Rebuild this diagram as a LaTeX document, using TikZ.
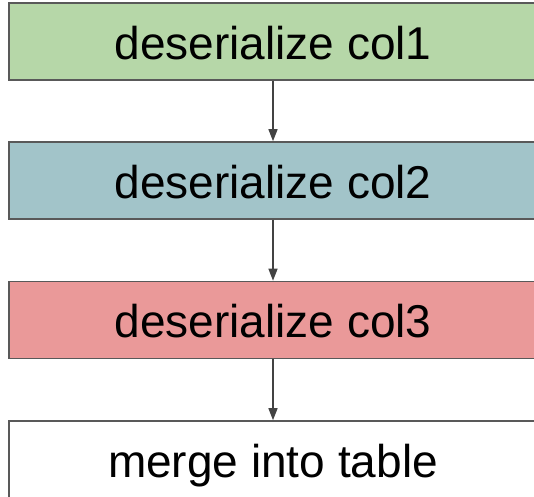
\documentclass[tikz,border=0pt]{standalone}
\usepackage{fontspec}
\setmainfont{Liberation Sans}
\usetikzlibrary{arrows.meta}
\definecolor{cgreen}{HTML}{B6D7A8}
\definecolor{cblue}{HTML}{A2C4C9}
\definecolor{cred}{HTML}{EA9999}
\definecolor{cborder}{HTML}{595959}
\definecolor{carrow}{HTML}{434343}
\begin{document}
\begin{tikzpicture}[x=1pt,y=1pt,
  stagebox/.style={draw=cborder, line width=1.6pt, minimum width=528pt, minimum height=77pt,
    inner sep=0pt, text height=40pt, text depth=5pt,
    font=\fontsize{46}{50}\selectfont},
  flowarrow/.style={draw=carrow, line width=1.4pt, -{Triangle[length=12pt,width=9pt]}}]
\useasboundingbox (0,0) rectangle (534,-496);
\node[stagebox, fill=cgreen] (c1) at (273,-41.5) {deserialize col1};
\node[stagebox, fill=cblue] (c2) at (273,-180.5) {deserialize col2};
\node[stagebox, fill=cred] (c3) at (273,-320) {deserialize col3};
\node[stagebox, fill=white] (m) at (273,-459.5) {merge into table};
\draw[flowarrow] (c1.south) -- (c2.north);
\draw[flowarrow] (c2.south) -- (c3.north);
\draw[flowarrow] (c3.south) -- (m.north);
\end{tikzpicture}
\end{document}
